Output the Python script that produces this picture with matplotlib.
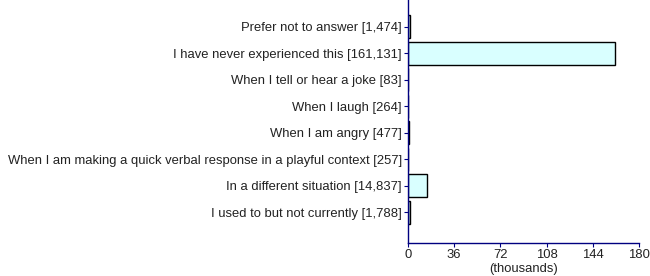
import matplotlib
matplotlib.use("Agg")
import matplotlib.pyplot as plt

categories = [
    "Prefer not to answer",
    "I have never experienced this",
    "When I tell or hear a joke",
    "When I laugh",
    "When I am angry",
    "When I am making a quick verbal response in a playful context",
    "In a different situation",
    "I used to but not currently",
]
counts = [1474, 161131, 83, 264, 477, 257, 14837, 1788]
x_ticks = [0, 36, 72, 108, 144, 180]

AXIS_COLOR = "#000080"
BAR_COLOR = "#d9ffff"
TEXT_COLOR = "#222222"
FS = 9.4

plt.rcParams["font.family"] = ["Liberation Sans", "DejaVu Sans"]

fig = plt.figure(figsize=(6.5, 2.76), dpi=100)
ax = fig.add_axes([408 / 650, 1 - 243 / 276, 231 / 650, 243 / 276])

labels = [f"{c} [{n:,}]" for c, n in zip(categories, counts)]
values = [n / 1000 for n in counts]
ypos = list(range(len(categories)))

ax.barh(ypos, values, height=0.87, color=BAR_COLOR, edgecolor="black", linewidth=1.0)

ax.set_xlim(0, 180)
ax.set_ylim(8.17, -1.02)
ax.set_xticks(x_ticks)
ax.set_xticklabels([str(t) for t in x_ticks], fontsize=FS)
ax.set_yticks(ypos)
ax.set_yticklabels(labels, fontsize=FS)
ax.set_xlabel("(thousands)", fontsize=FS, color=TEXT_COLOR, labelpad=1)

for side in ("top", "right"):
    ax.spines[side].set_visible(False)
for side in ("left", "bottom"):
    ax.spines[side].set_color(AXIS_COLOR)
    ax.spines[side].set_linewidth(1.0)
ax.tick_params(axis="both", colors=AXIS_COLOR, length=3, width=0.8, pad=1.5)
for lab in ax.get_xticklabels() + ax.get_yticklabels():
    lab.set_color(TEXT_COLOR)

fig.savefig("out.png", dpi=100)
